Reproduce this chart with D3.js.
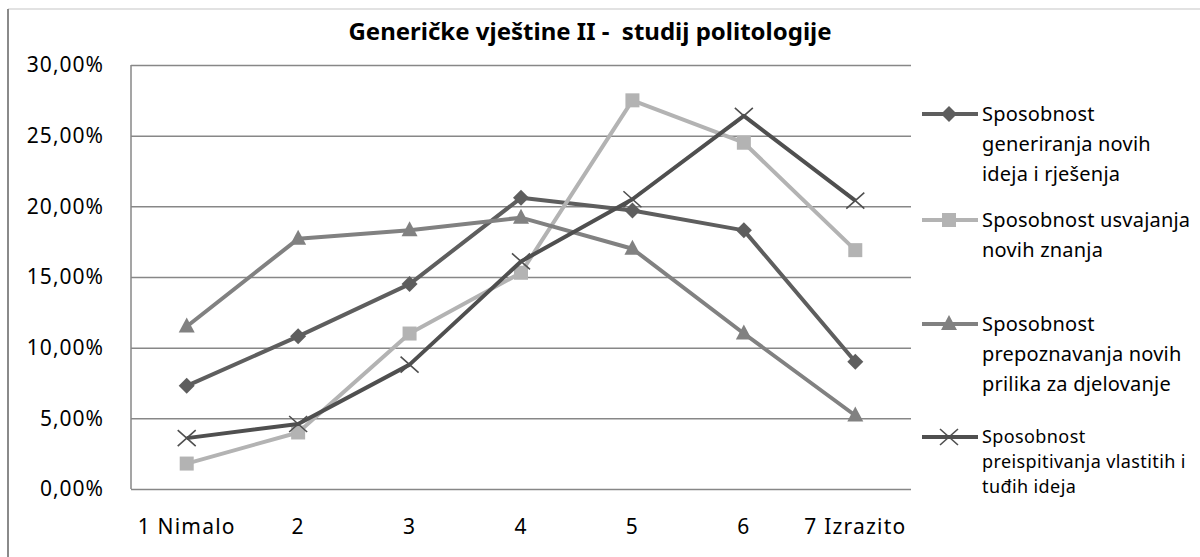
<!DOCTYPE html>
<html>
<head>
<meta charset="utf-8">
<script src="https://cdn.jsdelivr.net/npm/d3@7"></script>
<style>
  html, body { margin: 0; padding: 0; background: #fff; }
  svg { display: block; font-family: "Noto Sans", "Open Sans", sans-serif; }
</style>
</head>
<body>
<svg id="chart" width="1200" height="557"></svg>
<script>
// categories (x axis)
var categories = ["1 Nimalo", "2", "3", "4", "5", "6", "7 Izrazito"];

// series values (fractions)
var generiranje = [0.073, 0.108, 0.145, 0.206, 0.197, 0.183, 0.090];
var usvajanje   = [0.018, 0.040, 0.110, 0.153, 0.275, 0.245, 0.169];
var prepoznavanje = [0.115, 0.177, 0.183, 0.192, 0.170, 0.110, 0.052];
var preispitivanje = [0.036, 0.046, 0.088, 0.161, 0.205, 0.264, 0.204];

// legend labels (already wrapped like in the original)
var names = [
  ["Sposobnost", "generiranja novih", "ideja i rješenja"],
  ["Sposobnost usvajanja", "novih znanja"],
  ["Sposobnost", "prepoznavanja novih", "prilika za djelovanje"],
  ["Sposobnost", "preispitivanja vlastitih i", "tuđih ideja"]
];

var yTicks = [0, 0.05, 0.10, 0.15, 0.20, 0.25, 0.30];
var title = "Generičke vještine II -  studij politologije";

var series = [
  { values: generiranje,    color: "#5e5e5e", marker: "diamond" },
  { values: usvajanje,      color: "#b3b3b3", marker: "square" },
  { values: prepoznavanje,  color: "#818181", marker: "triangle" },
  { values: preispitivanje, color: "#4f4f4f", marker: "cross" }
];

var svg = d3.select("#chart");

var plot = { left: 131, right: 911, top: 65, bottom: 489 };

var x = d3.scaleBand().domain(categories).range([plot.left, plot.right]).padding(0);
var y = d3.scaleLinear().domain([0, 0.30]).range([plot.bottom, plot.top]);

var locale = d3.formatLocale({ decimal: ",", thousands: ".", grouping: [3], currency: ["", ""] });
var pct = locale.format(".2%");

// chart frame
svg.append("line").attr("x1", 8).attr("x2", 1200).attr("y1", 9).attr("y2", 9)
  .attr("stroke", "#d9d9d9").attr("stroke-width", 1.5);
svg.append("line").attr("x1", 8).attr("x2", 8).attr("y1", 9).attr("y2", 557)
  .attr("stroke", "#8a8a8a").attr("stroke-width", 2);

// title (keeps the double space of the original)
svg.append("text")
  .attr("x", 590).attr("y", 40)
  .attr("text-anchor", "middle")
  .attr("font-weight", "bold")
  .attr("font-size", 24)
  .attr("fill", "#000")
  .style("white-space", "pre")
  .text(title);

// gridlines + y labels
var yAxis = d3.axisLeft(y).tickValues(yTicks).tickFormat(pct)
  .tickSize(-(plot.right - plot.left)).tickPadding(27);
var gy = svg.append("g").attr("transform", "translate(" + plot.left + ",0)").call(yAxis);
gy.select(".domain").remove();
gy.selectAll(".tick line").attr("stroke", "#878787").attr("stroke-width", 1.5);
gy.selectAll(".tick text").attr("font-size", 21).attr("letter-spacing", 1).attr("fill", "#000")
  .attr("font-family", "'Noto Sans', sans-serif");

// left axis line
svg.append("line").attr("x1", plot.left).attr("x2", plot.left)
  .attr("y1", plot.top).attr("y2", plot.bottom)
  .attr("stroke", "#878787").attr("stroke-width", 1.5);

// x labels
var xAxis = d3.axisBottom(x).tickSize(0).tickPadding(30);
var gx = svg.append("g").attr("transform", "translate(0," + plot.bottom + ")").call(xAxis);
gx.select(".domain").remove();
gx.selectAll(".tick text").attr("font-size", 21).attr("letter-spacing", 1.2).attr("fill", "#000")
  .attr("font-family", "'Noto Sans', sans-serif");

function drawMarker(g, type, color) {
  if (type === "diamond") {
    g.append("path").attr("d", "M0,-8L8,0L0,8L-8,0Z").attr("fill", color);
  } else if (type === "square") {
    g.append("rect").attr("x", -7).attr("y", -7).attr("width", 14).attr("height", 14).attr("fill", color);
  } else if (type === "triangle") {
    g.append("path").attr("d", "M0,-9L8,6L-8,6Z").attr("fill", color);
  } else {
    g.append("path").attr("d", "M-9,-8L9,8M-9,8L9,-8")
      .attr("stroke", color).attr("stroke-width", 1.6).attr("fill", "none");
  }
}

var line = d3.line()
  .x(function(d, i) { return x(categories[i]) + x.bandwidth() / 2; })
  .y(function(d) { return y(d); });

series.forEach(function(s) {
  svg.append("path").datum(s.values)
    .attr("d", line)
    .attr("fill", "none")
    .attr("stroke", s.color)
    .attr("stroke-width", 4)
    .attr("stroke-linejoin", "round");
  s.values.forEach(function(v, i) {
    var g = svg.append("g")
      .attr("transform", "translate(" + (x(categories[i]) + x.bandwidth() / 2) + "," + y(v) + ")");
    drawMarker(g, s.marker, s.color);
  });
});

// legend
var legendTop = [114, 220, 324, 437];
var legendLH = [30, 30, 30, 25];
var legendFS = [20, 20, 20, 18];

series.forEach(function(s, k) {
  var ly = legendTop[k];
  svg.append("line").attr("x1", 922).attr("x2", 978).attr("y1", ly).attr("y2", ly)
    .attr("stroke", s.color).attr("stroke-width", 4);
  var g = svg.append("g").attr("transform", "translate(949," + ly + ")");
  drawMarker(g, s.marker, s.color);
  names[k].forEach(function(t, j) {
    svg.append("text")
      .attr("x", 982).attr("y", ly + j * legendLH[k])
      .attr("dy", "0.35em")
      .attr("font-size", legendFS[k])
      .attr("letter-spacing", k === 3 ? 0.4 : 0.2)
      .attr("fill", "#000")
      .text(t);
  });
});
</script>
</body>
</html>
